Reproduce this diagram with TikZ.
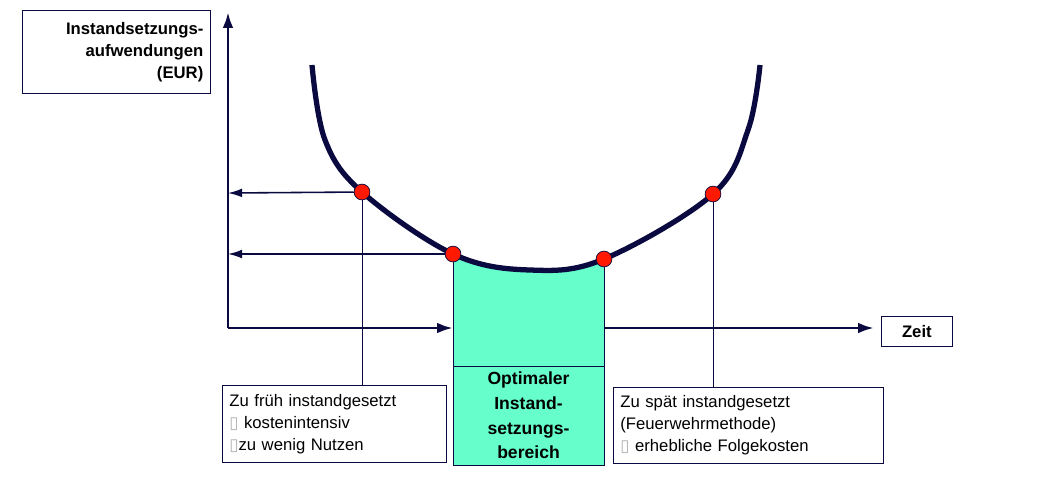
\documentclass[tikz,border=0pt]{standalone}
\usepackage{fontspec}
\setmainfont{Liberation Sans}
\newfontfamily\dejavu{DejaVu Sans}
\usetikzlibrary{arrows.meta}
\definecolor{navy}{HTML}{0A0A40}
\definecolor{mint}{HTML}{66FFCC}
\newcommand{\gbox}{{\dejavu\textcolor{gray!60}{▯}}}
\begin{document}
\begin{tikzpicture}[x=0.02cm,y=-0.02cm,
  lbl/.style={draw=navy,thin,fill=white,font=\fontsize{9.5}{12.5}\selectfont,inner sep=3pt},
  dot/.style={circle,draw=navy,fill=red!80!orange,minimum size=9pt,inner sep=0pt,thin},
  ax/.style={navy,line width=1.6pt,-{Latex[length=9pt,width=6pt]}},
  ar/.style={navy,line width=0.9pt,-{Latex[length=8pt,width=5pt]}}]
\useasboundingbox (0,0) rectangle (1060,495);
\def\curve{plot[smooth,tension=0.6] coordinates {(312,65)(325,140)(362,192)(453,254)(530,270)(604,259)(713,194)(748,130)(760,65)}}
\begin{scope}
\clip (453,0) rectangle (604,465);
\fill[mint] \curve -- (760,465) -- (312,465) -- cycle;
\end{scope}
\draw[navy,thin] (453,254) -- (453,465) -- (604,465) -- (604,259);
\draw[ax] (228,328) -- (228,12);
\draw[ax] (228,328) -- (453,328);
\draw[ax] (604,328) -- (874,328);
\draw[navy,line width=3pt] \curve;
\node[dot] (p1) at (362,192) {};
\node[dot] (p2) at (453,254) {};
\node[dot] (p3) at (604,259) {};
\node[dot] (p4) at (713,194) {};
\coordinate (a1) at (228,193);
\coordinate (a2) at (228,254);
\draw[ar] (p1) -- (a1);
\draw[ar] (p2) -- (a2);
\node[draw=navy,thin,fill=mint,minimum width=151\pgflinewidth,inner sep=0pt,align=center,font=\bfseries\fontsize{10}{14}\selectfont] (opt) at (528.5,415.5) {\parbox[c][99\dimexpr0.02cm\relax][c]{151\dimexpr0.02cm\relax}{\centering Optimaler\\Instand-\\setzungs-\\bereich}};
\node[lbl,align=left,anchor=north west,minimum width=224*0.02cm,minimum height=77*0.02cm,text width=210*0.02cm] (lb) at (222,385) {Zu früh instandgesetzt\\\gbox\ kostenintensiv\\\gbox zu wenig Nutzen};
\node[lbl,align=left,anchor=north west,minimum width=270*0.02cm,minimum height=76*0.02cm,text width=256*0.02cm] (rb) at (613,387) {Zu spät instandgesetzt\\(Feuerwehrmethode)\\\gbox\ erhebliche Folgekosten};
\draw[navy,thin] (p1) -- (362,385);
\draw[navy,thin] (p4) -- (713,387);
\node[lbl,align=right,anchor=north west,minimum width=188*0.02cm,minimum height=83*0.02cm,text width=174*0.02cm,font=\bfseries\fontsize{9.5}{12.5}\selectfont] (yl) at (22,10) {Instandsetzungs-\\aufwendungen\\(EUR)};
\node[lbl,anchor=north west,minimum width=71*0.02cm,minimum height=30*0.02cm,font=\bfseries\fontsize{9.5}{12}\selectfont] (zeit) at (881,316) {Zeit};
\end{tikzpicture}
\end{document}
